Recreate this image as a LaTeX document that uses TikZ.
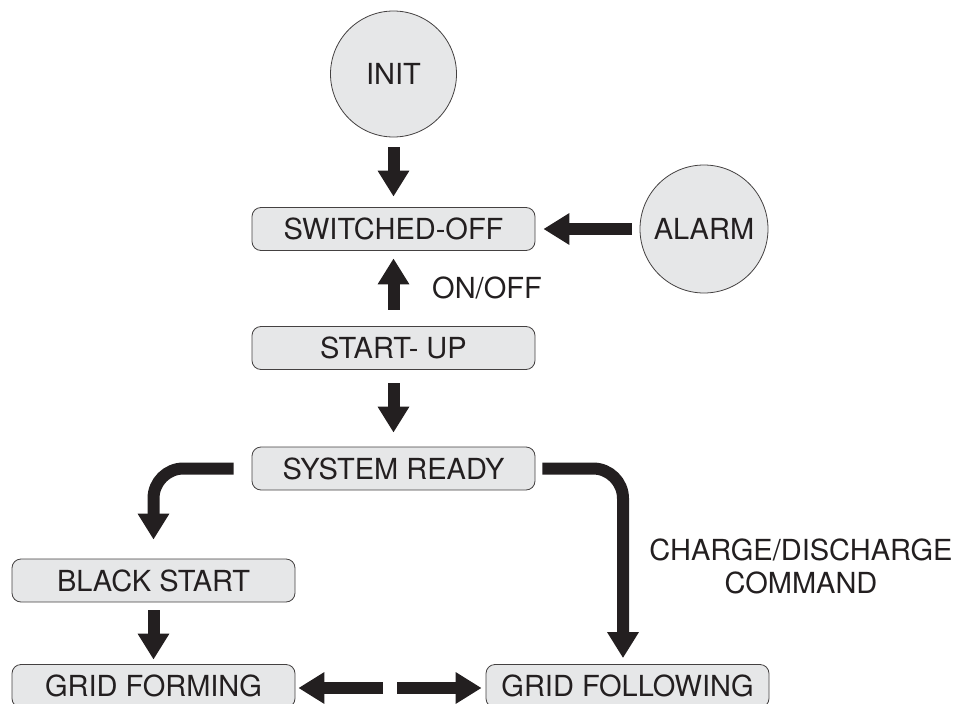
\documentclass[tikz,border=0pt]{standalone}
\usepackage{fontspec}
\setmainfont{TeX Gyre Heros}
\usetikzlibrary{arrows.meta,calc}
\definecolor{ink}{HTML}{231F20}
\definecolor{boxfill}{HTML}{E6E7E8}
\tikzset{
  state/.style = {draw=ink!85, line width=0.8pt, fill=boxfill, rounded corners=9pt,
                  minimum width=283pt, minimum height=43pt, inner sep=0pt, text=ink},
  event/.style = {draw=ink!85, line width=0.8pt, fill=boxfill, circle, inner sep=0pt, text=ink},
  bigarrow/.style = {draw=ink, line width=12pt, -{Triangle[width=30pt,length=26pt]}},
  note/.style = {text=ink, align=center, inner sep=0pt}
}
\begin{document}
\begin{tikzpicture}[x=1pt, y=-1pt, font=\fontsize{29}{33}\selectfont]
\useasboundingbox (0,0) rectangle (962,704);

\node[event, minimum size=126pt] (init) at (393.5,74) {INIT};
\node[state] (off) at (393.5,229) {SWITCHED-OFF};
\node[event, minimum size=128pt] (alarm) at (704,229) {ALARM};
\node[state] (startup) at (393.5,348) {START- UP};
\node[state] (ready) at (393.5,468.5) {SYSTEM READY};
\node[state] (black) at (153.5,580.5) {BLACK START};
\node[state] (forming) at (153.5,686) {GRID FORMING};
\node[state] (following) at (627.5,686) {GRID FOLLOWING};

\node[note, anchor=west] (onoff) at (432,288) {ON/OFF};
\node[note] (cmd) at (801,566) {CHARGE/DISCHARGE\\COMMAND};

% transitions
\draw[bigarrow, shorten <=10pt, shorten >=10.5pt] (init) -- (off);
\draw[bigarrow, shorten <=8pt, shorten >=8pt] (alarm) -- (off);
\draw[bigarrow, shorten <=16.5pt, shorten >=7.5pt] (startup) -- (off);
\draw[bigarrow, shorten <=13.5pt, shorten >=14pt] (startup) -- (ready);
\draw[bigarrow, rounded corners=30pt, shorten <=18pt, shorten >=19pt] (ready.west) -| (black.north);
\draw[bigarrow, rounded corners=30pt, shorten <=7pt, shorten >=6pt] (ready.east) -| ([xshift=-4.5pt]following.north);
\draw[bigarrow, shorten <=8pt, shorten >=4.5pt] (black) -- (forming);

\coordinate (gapL) at (383,688);
\coordinate (gapR) at (397,688);
\draw[bigarrow, shorten >=3pt] (gapL) -- (forming.east |- gapL);
\draw[bigarrow, shorten >=4pt] (gapR) -- (following.west |- gapR);
\end{tikzpicture}
\end{document}
